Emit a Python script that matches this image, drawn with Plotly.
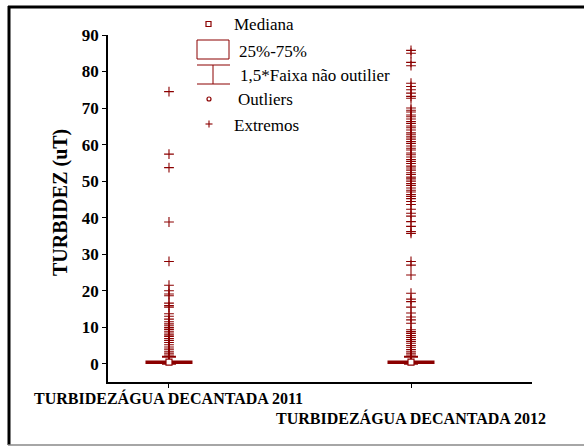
import plotly.graph_objects as go

# Categories (two monitoring years)
categories = ["TURBIDEZÁGUA DECANTADA 2011", "TURBIDEZÁGUA DECANTADA 2012"]

# Box statistics per category (uT)
q1 = [0.2, 0.2]
median = [0.45, 0.45]
q3 = [0.6, 0.6]
lower_fence = [0.0, 0.0]
upper_fence = [1.9, 1.9]

# Extreme values per category (uT)
extremes_2011 = [74.5, 57.4, 53.7, 38.8, 28.0, 21.5, 20.0, 19.1, 18.6, 16.6, 15.9,
                 15.5, 13.7, 13.0, 12.2, 11.5, 10.9, 10.4, 9.9, 9.4, 8.9, 8.4, 7.9,
                 7.5, 6.9, 6.4, 5.8, 5.2, 4.6, 4.0, 3.4, 2.9, 2.4, 2.0]
extremes_2012 = [85.8, 85.0, 82.5, 81.6, 76.8, 75.9, 75.0, 74.1, 73.2, 72.7,
                 70.0, 69.4, 68.9, 68.1, 67.6, 67.0, 66.3, 65.8, 65.1, 64.6, 64.0,
                 63.2, 62.7, 62.1, 61.5, 60.8, 60.3, 59.6, 59.0, 58.5, 57.7, 57.2,
                 56.6, 55.9, 55.4, 54.8, 54.1, 53.6, 53.0, 52.3, 51.8, 51.1, 50.6,
                 50.0, 49.3, 48.8, 48.1, 47.5, 47.0, 46.3, 45.8, 45.2, 44.4, 43.6,
                 42.3, 41.2, 40.4, 38.9, 37.6, 36.2, 35.7, 28.0, 27.0, 24.3, 19.3,
                 17.7, 17.0, 15.5, 13.9, 12.8, 12.0, 11.1, 9.3, 8.8, 8.3, 7.7, 7.2,
                 6.6, 6.1, 5.6, 5.0, 4.5, 3.9, 3.4, 2.9, 2.4, 2.0]
extremes = [extremes_2011, extremes_2012]

y_ticks = [0, 10, 20, 30, 40, 50, 60, 70, 80, 90]

legend_labels = ["Mediana", "25%-75%", "1,5*Faixa não outilier", "Outliers", "Extremos"]

RED = "#8b0000"
SERIF = "Liberation Serif"

# plot-area geometry (pixels) used to place decorations in paper units
L, R, T, B = 108, 532, 35, 382
W_PX, H_PX = 584, 447


def px(x):
    return (x - L) / (R - L)


def py(y):
    return (B - y) / (B - T)


fig = go.Figure()

for i, cat in enumerate(categories):
    fig.add_trace(go.Box(
        x=[cat], q1=[q1[i]], median=[median[i]], q3=[q3[i]],
        lowerfence=[lower_fence[i]], upperfence=[upper_fence[i]],
        boxpoints=False, width=0.186, whiskerwidth=0.31,
        line=dict(color=RED, width=2), fillcolor="rgba(0,0,0,0)",
        showlegend=False, hoverinfo="skip",
    ))
    fig.add_trace(go.Scatter(
        x=[cat] * len(extremes[i]), y=extremes[i], mode="markers",
        marker=dict(symbol="cross-thin", size=7, line=dict(color=RED, width=1.1)),
        showlegend=False,
    ))

fig.add_trace(go.Scatter(
    x=categories, y=median, mode="markers",
    marker=dict(symbol="square", size=6, color="white", line=dict(color=RED, width=1.2)),
    showlegend=False,
))

shapes = []
annotations = []

# outer frame
shapes.append(dict(type="line", xref="paper", yref="paper", x0=px(9), x1=px(9),
                   y0=py(6), y1=py(445), line=dict(color="black", width=3)))
shapes.append(dict(type="line", xref="paper", yref="paper", x0=px(8), x1=px(584),
                   y0=py(7), y1=py(7), line=dict(color="black", width=3)))
shapes.append(dict(type="line", xref="paper", yref="paper", x0=px(8), x1=px(584),
                   y0=py(445), y1=py(445), line=dict(color="#888888", width=1.5)))

# legend glyphs
shapes.append(dict(type="rect", xref="paper", yref="paper", x0=px(197), x1=px(229),
                   y0=py(40), y1=py(59), line=dict(color=RED, width=1)))
for yy in (65, 84):
    shapes.append(dict(type="line", xref="paper", yref="paper", x0=px(197), x1=px(230),
                       y0=py(yy), y1=py(yy), line=dict(color=RED, width=1)))
shapes.append(dict(type="line", xref="paper", yref="paper", x0=px(213), x1=px(213),
                   y0=py(65), y1=py(84), line=dict(color=RED, width=1)))
shapes.append(dict(type="rect", xref="paper", yref="paper", x0=px(206), x1=px(211),
                   y0=py(21.5), y1=py(26.5), line=dict(color=RED, width=1.2)))
shapes.append(dict(type="circle", xref="paper", yref="paper", x0=px(207), x1=px(211),
                   y0=py(97), y1=py(101), line=dict(color=RED, width=1.2)))
shapes.append(dict(type="line", xref="paper", yref="paper", x0=px(205.5), x1=px(212.5),
                   y0=py(124), y1=py(124), line=dict(color=RED, width=1.1)))
shapes.append(dict(type="line", xref="paper", yref="paper", x0=px(209), x1=px(209),
                   y0=py(120.5), y1=py(127.5), line=dict(color=RED, width=1.1)))

legend_pos = [(232, 25), (237, 51), (238, 76), (236, 100), (232, 125)]
for text, (xx, yy) in zip(legend_labels, legend_pos):
    annotations.append(dict(text=text, xref="paper", yref="paper", x=px(xx), y=py(yy),
                            xanchor="left", yanchor="middle", showarrow=False,
                            font=dict(family=SERIF, size=17, color="black")))

# staggered category labels
for cat, yy in zip(categories, (398, 418)):
    annotations.append(dict(text=cat, xref="x", yref="paper", x=cat, y=py(yy),
                            xanchor="center", yanchor="middle", showarrow=False,
                            font=dict(family=SERIF, size=16, color="black", weight="bold")))

# y axis title
annotations.append(dict(text="TURBIDEZ (uT)", xref="paper", yref="paper", x=px(60), y=py(203),
                        xanchor="center", yanchor="middle", textangle=-90, showarrow=False,
                        font=dict(family=SERIF, size=20, color="black", weight="bold")))

fig.update_layout(
    width=W_PX, height=H_PX,
    margin=dict(l=L, r=W_PX - R, t=T, b=H_PX - B, pad=0),
    paper_bgcolor="white", plot_bgcolor="white",
    shapes=shapes, annotations=annotations,
    xaxis=dict(type="category", categoryorder="array", categoryarray=categories,
               range=[-0.252, 1.5], showline=True, linecolor="black", linewidth=1.5,
               ticks="outside", ticklen=4, tickcolor="black", showticklabels=False,
               showgrid=False, zeroline=False),
    yaxis=dict(range=[-5, 90], tickvals=y_ticks, showline=True, linecolor="black",
               linewidth=1.5, ticks="outside", ticklen=4, tickcolor="black",
               showgrid=False, zeroline=False,
               tickfont=dict(family=SERIF, size=17, color="black", weight="bold")),
)

fig.write_html("out.html")
